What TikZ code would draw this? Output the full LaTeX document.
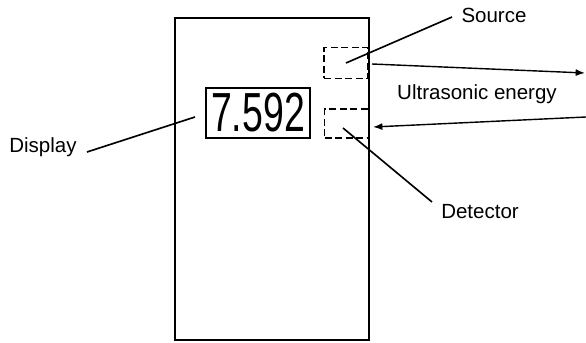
\documentclass[tikz,border=0pt]{standalone}
\usepackage{fontspec}
\setmainfont{Liberation Sans}
\usepackage{graphicx}
\usetikzlibrary{arrows.meta,positioning}

\begin{document}
\begin{tikzpicture}[x=0.03cm,y=-0.03cm,
  lbl/.style={font=\fontsize{17.5}{20}\selectfont, inner sep=0pt},
  lead/.style={line width=1.4pt},
  sensor/.style={draw, dash pattern=on 6pt off 3pt, line width=1.3pt, minimum width=1.32cm, minimum height=0.93cm, inner sep=0pt},
  beam/.style={line width=1.2pt, -{Latex[length=8pt,width=6pt]}}]
  \useasboundingbox (0,0) rectangle (586,343);

  %% Instrument case
  \draw[line width=1.4pt] (175,18) rectangle (369,340);

  %% Display window and transducers
  \node[draw, line width=1.4pt, minimum width=3.12cm, minimum height=1.5cm, inner sep=0pt] (display) at (258,113) {\fontsize{47}{47}\selectfont\scalebox{0.68}[1]{7.592}};
  \node[sensor] (srcbox) at (346,63) {};
  \node[sensor, minimum height=0.87cm] (detbox) at (346.5,123.5) {};

  %% Labels
  \node[lbl] (source) at (494,15) {Source};
  \node[lbl] (energy) at (477,94) {Ultrasonic energy};
  \node[lbl] (detector) at (480,212) {Detector};
  \node[lbl] (displaylbl) at (43,147) {Display};

  %% Free ends
  \coordinate (srcend) at (452,17);
  \coordinate (detstart) at (343,128);
  \coordinate (detend) at (432,202);
  \coordinate (dispstart) at (87,152);
  \coordinate (dispend) at (195,117);
  \coordinate (outstart) at (372,64);
  \coordinate (outend) at (585,73);
  \coordinate (instart) at (586,117);
  \coordinate (inend) at (373,127);

  %% Leaders
  \draw[lead] (srcbox.center) -- (srcend);
  \draw[lead] (detstart) -- (detend);
  \draw[lead] (dispstart) -- (dispend);

  %% Ultrasonic beams
  \draw[beam] (outstart) -- (outend);
  \draw[beam] (instart) -- (inend);
\end{tikzpicture}
\end{document}
